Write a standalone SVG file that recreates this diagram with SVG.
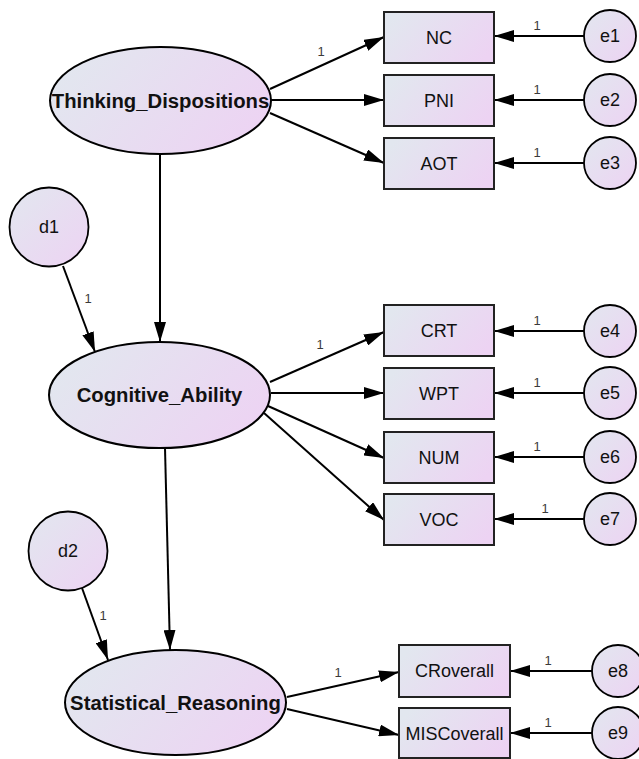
<svg xmlns="http://www.w3.org/2000/svg" width="639" height="759" viewBox="0 0 639 759">
<defs>
<linearGradient id="g" x1="0" y1="0" x2="1" y2="1">
<stop offset="0" stop-color="#e2e7ef"/>
<stop offset="1" stop-color="#edd3f3"/>
</linearGradient>
<linearGradient id="gh" x1="0" y1="0.3" x2="1" y2="0.7">
<stop offset="0" stop-color="#e2e7ef"/>
<stop offset="1" stop-color="#edd3f3"/>
</linearGradient>
<marker id="ah" viewBox="0 0 20 12" markerWidth="20" markerHeight="12" refX="20" refY="6" orient="auto" markerUnits="userSpaceOnUse">
<path d="M0,0 L20,6 L0,12 z" fill="#000"/>
</marker>
</defs>
<style>
.lat{fill:url(#gh);stroke:#000;stroke-width:2}
.box{fill:url(#gh);stroke:#222;stroke-width:2}
.err{fill:url(#g);stroke:#000;stroke-width:1.8}
.lt{font-family:"Liberation Sans",Arial,sans-serif;font-size:20.3px;font-weight:bold;text-anchor:middle;fill:#111}
.bt{font-family:"Liberation Sans",Arial,sans-serif;font-size:18px;text-anchor:middle;fill:#111}
.w{font-family:"Liberation Sans",Arial,sans-serif;font-size:13px;text-anchor:middle;fill:#3a3a3a}
.c line{stroke:#000;stroke-width:2;marker-end:url(#ah)}
</style>
<rect width="639" height="759" fill="#fff"/>
<g class="c" id="connectors">
<line x1="270" y1="89" x2="384" y2="37"/>
<line x1="271" y1="100" x2="384" y2="100"/>
<line x1="270" y1="113" x2="384" y2="163"/>
<line x1="160" y1="154" x2="160" y2="342"/>
<line x1="63" y1="266" x2="95" y2="352"/>
<line x1="270" y1="382" x2="384" y2="332"/>
<line x1="271" y1="393" x2="384" y2="393"/>
<line x1="268" y1="406" x2="384" y2="458"/>
<line x1="264" y1="413" x2="384" y2="520"/>
<line x1="165" y1="448" x2="170" y2="650"/>
<line x1="82" y1="588" x2="108" y2="660"/>
<line x1="287" y1="697" x2="399" y2="672"/>
<line x1="287" y1="709" x2="399" y2="735"/>
<line x1="584" y1="36" x2="494" y2="36"/>
<line x1="584" y1="100" x2="494" y2="100"/>
<line x1="584" y1="163" x2="494" y2="163"/>
<line x1="584" y1="331" x2="494" y2="331"/>
<line x1="584" y1="393" x2="494" y2="393"/>
<line x1="584" y1="457" x2="494" y2="457"/>
<line x1="584" y1="519" x2="494" y2="519"/>
<line x1="592" y1="671" x2="510" y2="671"/>
<line x1="592" y1="733" x2="510" y2="733"/>
</g>
<g id="weights">
<text class="w" x="321" y="56">1</text>
<text class="w" x="88" y="303">1</text>
<text class="w" x="320" y="349">1</text>
<text class="w" x="103" y="620">1</text>
<text class="w" x="338" y="677">1</text>
<text class="w" x="537" y="30">1</text>
<text class="w" x="537" y="94">1</text>
<text class="w" x="537" y="157">1</text>
<text class="w" x="537" y="325">1</text>
<text class="w" x="537" y="387">1</text>
<text class="w" x="537" y="451">1</text>
<text class="w" x="545" y="513">1</text>
<text class="w" x="548" y="665">1</text>
<text class="w" x="548" y="727">1</text>
</g>
<g id="Thinking_Dispositions"><ellipse class="lat" cx="160.5" cy="100.5" rx="110.5" ry="53.5"/><text class="lt" x="160.5" y="108">Thinking_Dispositions</text></g>
<g id="Cognitive_Ability"><ellipse class="lat" cx="159.5" cy="395" rx="110.5" ry="53"/><text class="lt" x="159.5" y="402">Cognitive_Ability</text></g>
<g id="Statistical_Reasoning"><ellipse class="lat" cx="175.5" cy="702.5" rx="110.5" ry="52.5"/><text class="lt" x="175.5" y="710">Statistical_Reasoning</text></g>
<g id="d1"><circle class="err" cx="49" cy="227" r="39.5"/><text class="bt" x="49" y="233">d1</text></g>
<g id="d2"><circle class="err" cx="68" cy="551" r="39.5"/><text class="bt" x="68" y="557">d2</text></g>
<g id="NC"><rect class="box" x="384" y="12" width="110" height="51"/><text class="bt" x="439" y="44">NC</text></g>
<g id="PNI"><rect class="box" x="384" y="75" width="110" height="51"/><text class="bt" x="439" y="107">PNI</text></g>
<g id="AOT"><rect class="box" x="384" y="138" width="110" height="51"/><text class="bt" x="439" y="170">AOT</text></g>
<g id="CRT"><rect class="box" x="384" y="305" width="110" height="51"/><text class="bt" x="439" y="337">CRT</text></g>
<g id="WPT"><rect class="box" x="384" y="368" width="110" height="51"/><text class="bt" x="439" y="400">WPT</text></g>
<g id="NUM"><rect class="box" x="384" y="432" width="110" height="51"/><text class="bt" x="439" y="464">NUM</text></g>
<g id="VOC"><rect class="box" x="384" y="494" width="110" height="51"/><text class="bt" x="439" y="526">VOC</text></g>
<g id="CRoverall"><rect class="box" x="399" y="645" width="111" height="52"/><text class="bt" x="454.5" y="677">CRoverall</text></g>
<g id="MISCoverall"><rect class="box" x="399" y="708" width="111" height="50"/><text class="bt" x="454.5" y="740">MISCoverall</text></g>
<g id="e1"><circle class="err" cx="610" cy="36" r="26"/><text class="bt" x="610" y="42">e1</text></g>
<g id="e2"><circle class="err" cx="610" cy="100" r="26"/><text class="bt" x="610" y="106">e2</text></g>
<g id="e3"><circle class="err" cx="610" cy="163" r="26"/><text class="bt" x="610" y="169">e3</text></g>
<g id="e4"><circle class="err" cx="610" cy="331" r="26"/><text class="bt" x="610" y="337">e4</text></g>
<g id="e5"><circle class="err" cx="610" cy="393" r="26"/><text class="bt" x="610" y="399">e5</text></g>
<g id="e6"><circle class="err" cx="610" cy="457" r="26"/><text class="bt" x="610" y="463">e6</text></g>
<g id="e7"><circle class="err" cx="610" cy="519" r="26"/><text class="bt" x="610" y="525">e7</text></g>
<g id="e8"><circle class="err" cx="618" cy="671" r="26"/><text class="bt" x="618" y="677">e8</text></g>
<g id="e9"><circle class="err" cx="618" cy="733" r="26"/><text class="bt" x="618" y="739">e9</text></g>
</svg>
